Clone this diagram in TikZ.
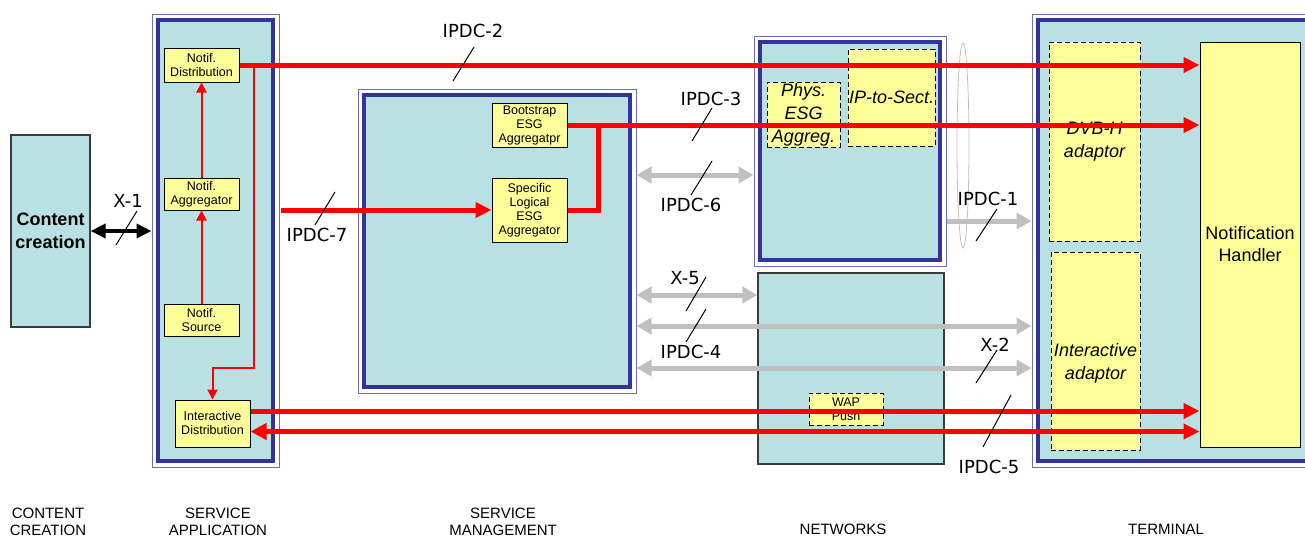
\documentclass[tikz,border=0pt]{standalone}
\usepackage{fontspec}
\setmainfont{Liberation Sans}
\newfontfamily\ifacefont{DejaVu Sans}
\usetikzlibrary{positioning, arrows.meta, shapes.geometric}
\definecolor{paleblue}{RGB}{185,224,226}
\definecolor{navy}{RGB}{51,51,153}
\definecolor{frameblue}{RGB}{110,110,200}
\definecolor{notefill}{RGB}{255,255,153}
\definecolor{lightgrey}{RGB}{192,192,192}
\definecolor{edgegrey}{RGB}{60,60,60}
\tikzset{
  zoneframe/.style={draw=frameblue, line width=1pt, inner sep=0pt},
  zone/.style={draw=navy, line width=4.5pt, fill=paleblue, inner sep=0pt},
  plainzone/.style={
    draw=edgegrey, line width=1.3pt, fill=paleblue,
    inner sep=0pt, align=center
  },
  unitbox/.style={
    draw=black, line width=1pt, fill=notefill,
    inner sep=0pt, align=center,
    font={\fontsize{12.5}{14}\selectfont}
  },
  softbox/.style={
    unitbox, dash pattern=on 5pt off 3pt,
    font={\itshape\fontsize{18}{23}\selectfont}
  },
  redflow/.style={draw=red, line width=5pt, -{Triangle[length=16pt,width=15pt]}},
  redboth/.style={draw=red, line width=5pt, {Triangle[length=16pt,width=16pt]}-{Triangle[length=16pt,width=15pt]}},
  redlink/.style={draw=red, line width=5pt},
  thinflow/.style={draw=red, line width=2pt, -{Triangle[length=10pt,width=10pt]}},
  grayboth/.style={draw=lightgrey, line width=5pt, {Triangle[length=15pt,width=16pt]}-{Triangle[length=15pt,width=16pt]}},
  grayflow/.style={draw=lightgrey, line width=5pt, -{Triangle[length=15pt,width=16pt]}},
  blackboth/.style={draw=black, line width=4pt, {Triangle[length=15pt,width=14pt]}-{Triangle[length=15pt,width=14pt]}},
  iface/.style={font={\ifacefont\fontsize{18}{20}\selectfont}, inner sep=0pt},
  tick/.style={draw=black, line width=1pt},
  tierlabel/.style={font={\fontsize{15}{17}\selectfont}, align=center, inner sep=0pt},
}
\begin{document}
\begin{tikzpicture}[x=1pt, y=-1pt]
  \clip (0,0) rectangle (1305,539);

  % zones
  \node[plainzone, minimum width=79pt, minimum height=192pt,
        font={\bfseries\fontsize{18}{23}\selectfont}] (cc) at (50.5,231) {Content\\creation};

  \node[zoneframe, minimum width=127pt, minimum height=453pt] (saframe) at (215.5,240.5) {};
  \node[zone, minimum width=115pt, minimum height=441pt] (sa) at (saframe) {};

  \node[zoneframe, minimum width=278pt, minimum height=304pt] (smframe) at (497,241) {};
  \node[zone, minimum width=266pt, minimum height=292pt] (sm) at (smframe) {};

  \node[zoneframe, minimum width=192pt, minimum height=230pt] (dvbframe) at (850,151) {};
  \node[zone, minimum width=180pt, minimum height=218pt] (dvbnet) at (dvbframe) {};
  \node[plainzone, minimum width=186pt, minimum height=191pt] (ipnet) at (851,368.5) {};

  \node[zoneframe, minimum width=298pt, minimum height=453pt] (termframe) at (1181,240.5) {};
  \node[zone, minimum width=286pt, minimum height=441pt] (term) at (termframe) {};

  % units
  \node[unitbox, minimum width=75pt, minimum height=34pt] (notifdist) at (201.5,65) {Notif.\\Distribution};
  \node[unitbox, minimum width=75pt, minimum height=32pt] (notifagg) at (201.5,194) {Notif.\\Aggregator};
  \node[unitbox, minimum width=75pt, minimum height=32pt] (notifsrc) at (201.5,320) {Notif.\\Source};
  \node[unitbox, minimum width=75pt, minimum height=47pt] (interdist) at (212.5,423.5) {Interactive\\Distribution};
  \node[unitbox, minimum width=75pt, minimum height=44pt] (bootagg) at (529.5,125) {Bootstrap\\ESG\\Aggregatpr};
  \node[unitbox, minimum width=75pt, minimum height=64pt] (specagg) at (529.5,210) {Specific\\Logical\\ESG\\Aggregator};

  \node[softbox, minimum width=73pt, minimum height=65pt] (physagg) at (803.5,114.5) {Phys.\\ESG\\Aggreg.};
  \node[softbox, minimum width=87pt, minimum height=97pt] (iptosect) at (891.5,97.5) {IP-to-Sect.};
  \node[softbox, minimum width=74pt, minimum height=32pt,
        font={\fontsize{12.5}{14}\selectfont}] (wappush) at (846,409) {WAP\\Push};
  \node[softbox, minimum width=91pt, minimum height=199pt] (dvbadapt) at (1094.5,141.5) {DVB-H\\adaptor};
  \node[softbox, minimum width=89pt, minimum height=198pt] (interadapt) at (1095.5,351) {};
  \node[font={\itshape\fontsize{18}{23}\selectfont}, align=center, inner sep=0pt]
    (interadapttext) at (1095.5,363) {Interactive\\adaptor};
  \node[unitbox, minimum width=100pt, minimum height=405pt,
        font={\fontsize{18}{22}\selectfont}] (notifhandler) at (1250,244.5) {Notification\\Handler};

  \node[ellipse, draw=lightgrey, line width=0.8pt, inner sep=0pt,
        minimum width=12pt, minimum height=205pt] (bundle) at (963,145.5) {};

  % notification path inside the application
  \draw[thinflow] (notifsrc) -- (notifagg);
  \draw[thinflow] (notifagg) -- (notifdist);
  \draw[thinflow] ([xshift=14pt]notifdist.east) -- ++(0,303) -| (interdist.north);

  % red flows
  \coordinate (ipdc7in) at (281,210);
  \coordinate (intout) at ([yshift=12.5pt]interdist.east);
  \coordinate (intin) at ([yshift=-8pt]interdist.east);
  \draw[redflow] (notifdist.east) -- (notifdist.east -| notifhandler.west);
  \draw[redflow] (ipdc7in) -- (specagg.west);
  \draw[redlink] (specagg.east) -| ([xshift=31pt]bootagg.east);
  \draw[redflow] (bootagg.east) -- (bootagg.east -| notifhandler.west);
  \draw[redflow] (intout) -- (intout -| notifhandler.west);
  \draw[redboth] (intin) -- (intin -| notifhandler.west);

  % grey interfaces
  \draw[grayboth] (smframe.east |- 0,175) -- (dvbframe.west |- 0,175);
  \draw[grayboth] (smframe.east |- 0,295) -- (ipnet.west |- 0,295);
  \draw[grayboth] (smframe.east |- 0,326) -- (termframe.west |- 0,326);
  \draw[grayboth] (smframe.east |- 0,368) -- (termframe.west |- 0,368);
  \draw[grayflow] (dvbframe.east |- 0,221) -- (termframe.west |- 0,221);
  \draw[blackboth] (cc.east) -- (saframe.west |- cc.east);

  % interface names
  \node[iface] (ipdc2) at (473,31) {IPDC-2};
  \node[iface] (ipdc3) at (711,99) {IPDC-3};
  \node[iface] (ipdc6) at (691,205) {IPDC-6};
  \node[iface] (x5) at (685,278) {X-5};
  \node[iface] (ipdc4) at (691,352) {IPDC-4};
  \node[iface] (x1) at (128,201) {X-1};
  \node[iface] (ipdc7) at (317,235) {IPDC-7};
  \node[iface] (x2) at (995,345) {X-2};
  \node[iface] (ipdc5) at (989,467) {IPDC-5};
  \node[iface] (ipdc1) at (988,199) {IPDC-1};

  \draw[tick] (453,81) -- (474,47);
  \draw[tick] (692,141) -- (712,108);
  \draw[tick] (691,195) -- (712,161);
  \draw[tick] (686,311) -- (706,277);
  \draw[tick] (686,342) -- (706,309);
  \draw[tick] (116,245) -- (137,211);
  \draw[tick] (315,225) -- (335,192);
  \draw[tick] (976,383) -- (997,350);
  \draw[tick] (983,447) -- (1011,395);
  \draw[tick] (976,241) -- (997,209);

  % tiers
  \node[tierlabel, anchor=north] (tiercc) at (48,508) {CONTENT\\CREATION};
  \node[tierlabel, anchor=north] (tiersa) at (218,508) {SERVICE\\APPLICATION};
  \node[tierlabel, anchor=north] (tiersm) at (503,508) {SERVICE\\MANAGEMENT};
  \node[tierlabel, anchor=north] (tiernet) at (843,524) {NETWORKS};
  \node[tierlabel, anchor=north] (tierterm) at (1166,524) {TERMINAL};
\end{tikzpicture}
\end{document}
